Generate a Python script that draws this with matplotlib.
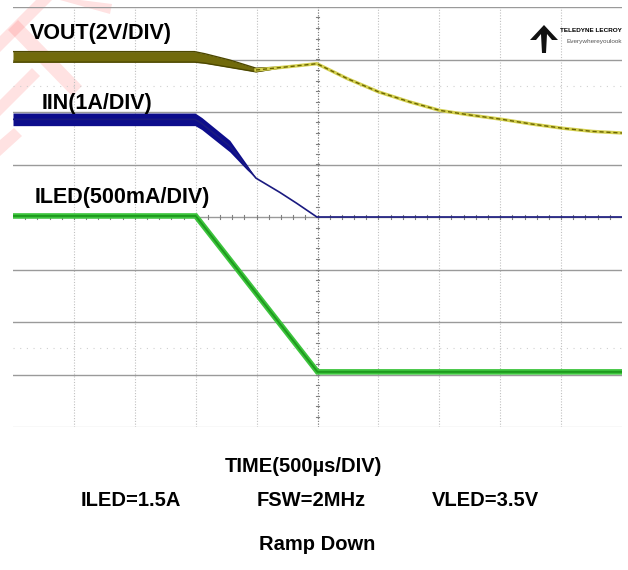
"""
Scope capture redraw: LED driver ramp down (VOUT, IIN, ILED).
"""

import matplotlib.pyplot as plt
import numpy as np
from matplotlib.patches import Polygon

plt.rcParams["font.family"] = ["Liberation Sans", "DejaVu Sans"]

vout_x = [0.0, 2.98, 3.15, 3.56, 3.99, 4.5, 4.99, 5.50, 6.01, 6.52, 7.01, 7.52, 8.03, 8.52, 9.03, 9.52, 10.0]
vout_y = [7.05, 7.05, 7.02, 6.92, 6.80, 6.86, 6.92, 6.63, 6.38, 6.19, 6.03, 5.94, 5.86, 5.77, 5.69, 5.63, 5.60]
vout_band = [0.1, 0.1, 0.09, 0.07, 0.035, 0.0, 0.0, 0.0, 0.0, 0.0, 0.0, 0.0, 0.0, 0.0, 0.0, 0.0, 0.0]

iin_x = [0.0, 2.99, 3.10, 3.56, 3.84, 3.99, 4.38, 4.66, 4.99, 10.0]
iin_y = [5.86, 5.86, 5.78, 5.35, 4.95, 4.74, 4.47, 4.26, 4.0, 4.0]
iin_band = [0.12, 0.12, 0.115, 0.11, 0.05, 0.0, 0.0, 0.0, 0.0, 0.0]

iled_x = [0.0, 3.0, 5.0, 10.0]
iled_y = [4.02, 4.02, 1.05, 1.05]

trace_labels = ["VOUT(2V/DIV)", "IIN(1A/DIV)", "ILED(500mA/DIV)"]
cond_labels = ["ILED=1.5A", "FSW=2MHz", "VLED=3.5V"]

W, H = 628, 570


def px(x, y):
    # pixel (from top-left) -> figure fraction
    return (x / W, 1 - y / H)


fig = plt.figure(figsize=(6.28, 5.70), dpi=100)
fig.patch.set_facecolor("white")

# pale red watermark stripes in the top-left corner
stripes = [
    [(0, 36), (0, 52), (52, 0), (36, 0)],
    [(0, 100), (0, 116), (40, 76), (32, 68)],
    [(8, 30), (72, 96), (82, 86), (18, 20)],
    [(0, 140), (0, 156), (22, 136), (14, 128)],
    [(60, 0), (110, 14), (112, 4), (80, 0)],
]
for s in stripes:
    fig.add_artist(Polygon([px(*p) for p in s], closed=True, facecolor="#ff2020",
                           alpha=0.13, edgecolor="none", zorder=0))

ax = fig.add_axes([13 / W, (H - 427) / H, 609 / W, 420 / H])
ax.set_xlim(0, 10)
ax.set_ylim(0, 8)
ax.set_facecolor("none")
for sp in ax.spines.values():
    sp.set_visible(False)
ax.set_xticks([])
ax.set_yticks([])

# graticule
for gx in range(1, 10):
    ax.axvline(gx, color="#c0c0c0", lw=0.8, ls=(0, (1, 1.5)), zorder=1)
for gy in range(1, 9):
    ax.axhline(gy, color="#9a9a9a", lw=1.0, zorder=1)
ax.axhline(0, color="#e0e0e0", lw=1.0, zorder=1)
ax.axvline(5, color="#808080", lw=0.8, ls=(0, (1, 1.5)), zorder=1)
for gy in [1.5, 6.5]:
    ax.axhline(gy, color="#d0d0d0", lw=0.8, ls=(0, (1, 5)), zorder=1)
for t in np.arange(0.2, 8, 0.2):
    ax.plot([4.97, 5.03], [t, t], color="#808080", lw=0.8, zorder=1)
for t in np.arange(0.2, 10, 0.2):
    ax.plot([t, t], [3.96, 4.04], color="#808080", lw=0.8, zorder=1)

# VOUT
vx = np.array(vout_x)
vy = np.array(vout_y)
vb = np.array(vout_band)
ax.fill_between(vx, vy - vb, vy + vb, color="#716a0c", lw=0, zorder=3)
ax.plot(vx, vy + vb, color="#4c4700", lw=1.0, zorder=3)
ax.plot(vx, vy - vb, color="#4c4700", lw=1.0, zorder=3)
ax.plot(vx[4:], vy[4:], color="#d4d050", lw=2.4, zorder=3)
ax.plot(vx[4:], vy[4:], color="#6a6400", lw=1.0, ls=(0, (3, 2)), zorder=4)

# IIN
ix = np.array(iin_x)
iy = np.array(iin_y)
ib = np.array(iin_band)
ax.fill_between(ix, iy - ib, iy + ib, color="#0d0d8c", lw=0, zorder=3)
ax.plot(ix, iy, color="#1a1a80", lw=1.2, zorder=3)

# ILED
ax.plot(iled_x, iled_y, color="#3cc43c", lw=4.0, zorder=5, solid_joinstyle="miter")
ax.plot(iled_x, iled_y, color="#1e9a1e", lw=1.4, zorder=5)

# trace labels
fig.text(*px(30, 34), trace_labels[0], fontsize=15.5, fontweight="bold", va="center", ha="left")
fig.text(*px(42, 103), trace_labels[1], fontsize=15.5, fontweight="bold", va="center", ha="left")
fig.text(*px(35, 197), trace_labels[2], fontsize=15.5, fontweight="bold", va="center", ha="left")

# Teledyne LeCroy logo
logo = [(530, 40), (544, 25), (558, 40), (552, 40), (547, 34), (546, 53),
        (542, 53), (541, 34), (536, 40)]
fig.add_artist(Polygon([px(*p) for p in logo], closed=True, facecolor="#111111",
                       edgecolor="none"))
fig.text(*px(622, 30), "TELEDYNE LECROY", fontsize=4.6, fontweight="bold",
         va="center", ha="right")
fig.text(*px(622, 42), "Everywhereyoulook", fontsize=4.6, color="#555555",
         va="center", ha="right")

# captions below the screen
fig.text(*px(303, 466), "TIME(500µs/DIV)", fontsize=14.5, fontweight="bold", ha="center", va="center")
fig.text(*px(131, 500), cond_labels[0], fontsize=14.5, fontweight="bold", ha="center", va="center")
fig.text(*px(311, 500), cond_labels[1], fontsize=14.5, fontweight="bold", ha="center", va="center")
fig.text(*px(485, 500), cond_labels[2], fontsize=14.5, fontweight="bold", ha="center", va="center")
fig.text(*px(317, 544), "Ramp Down", fontsize=14.5, fontweight="bold", ha="center", va="center")

fig.savefig("out.png", dpi=100)
